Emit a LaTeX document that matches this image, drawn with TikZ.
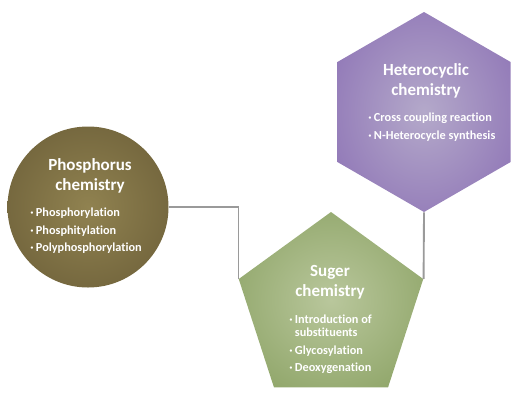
\documentclass[tikz,border=0pt]{standalone}
\usepackage{fontspec}
\setmainfont{Carlito}[Ligatures=NoCommon]
\usetikzlibrary{shapes.geometric}
\definecolor{phosdark}{HTML}{5C4F2E}
\definecolor{phoslight}{HTML}{908250}
\definecolor{sugdark}{HTML}{76914A}
\definecolor{suglight}{HTML}{B9C79C}
\definecolor{hetdark}{HTML}{7A58AB}
\definecolor{hetlight}{HTML}{B4A9CA}
\definecolor{linkgray}{HTML}{9A9A9A}
\pgfdeclareradialshading{phosshade}{\pgfpoint{0bp}{0bp}}{color(0bp)=(phoslight); color(50bp)=(phosdark)}
\pgfdeclareradialshading{sugshade}{\pgfpoint{0bp}{0bp}}{color(0bp)=(suglight); color(50bp)=(sugdark)}
\pgfdeclareradialshading{hetshade}{\pgfpoint{0bp}{0bp}}{color(0bp)=(hetlight); color(50bp)=(hetdark)}
\newcommand\dotitem{·\hspace{1.8pt}}

\begin{document}
\begin{tikzpicture}[
      x=0.75pt, y=-0.75pt,
      title/.style={text=white, font=\bfseries\fontsize{12.75}{15}\selectfont, align=center, inner sep=0pt, anchor=north},
      items/.style={text=white, font=\bfseries\fontsize{9.2}{9.6}\selectfont, align=left, inner sep=0pt, anchor=north west},
      link/.style={draw=linkgray, line width=1.4pt},
    ]
    \useasboundingbox (0,0) rectangle (520,400);

    % Phosphorus
    \node[circle, shading=phosshade, minimum size=120.75pt, inner sep=0pt] (phos) at (88,207) {};
    \node[title] (phostitle) at (90,158) {Phosphorus\\chemistry};
    \node[items] (phositems) at (30,208) {\dotitem Phosphorylation\\[3.5pt]\dotitem Phosphitylation\\[3.5pt]\dotitem Polyphosphorylation};

    % Suger
    \node[regular polygon, regular polygon sides=5, shading=sugshade, minimum size=145.5pt, inner sep=0pt] (sug) at (331,309) {};
    \node[title] (sugtitle) at (330,265) {Suger\\chemistry};
    \node[items] (sugitems) at (289,315) {\dotitem Introduction of\\\hphantom{\dotitem}substituents\\[3.5pt]\dotitem Glycosylation\\[3.5pt]\dotitem Deoxygenation};

    % Heterocyclic
    \node[regular polygon, regular polygon sides=6, shape border rotate=30, shading=hetshade, minimum size=150pt, inner sep=0pt] (het) at (424,112) {};
    \node[title] (hettitle) at (426,63) {Heterocyclic\\chemistry};
    \node[items] (hetitems) at (368,113) {\dotitem Cross coupling reaction\\[3.5pt]\dotitem N-Heterocycle synthesis};

    % links
    \draw[link] (phos.east) -| (sug.corner 2);
    \draw[link] (het.270) -- (sug.corner 5);
  \end{tikzpicture}
\end{document}
